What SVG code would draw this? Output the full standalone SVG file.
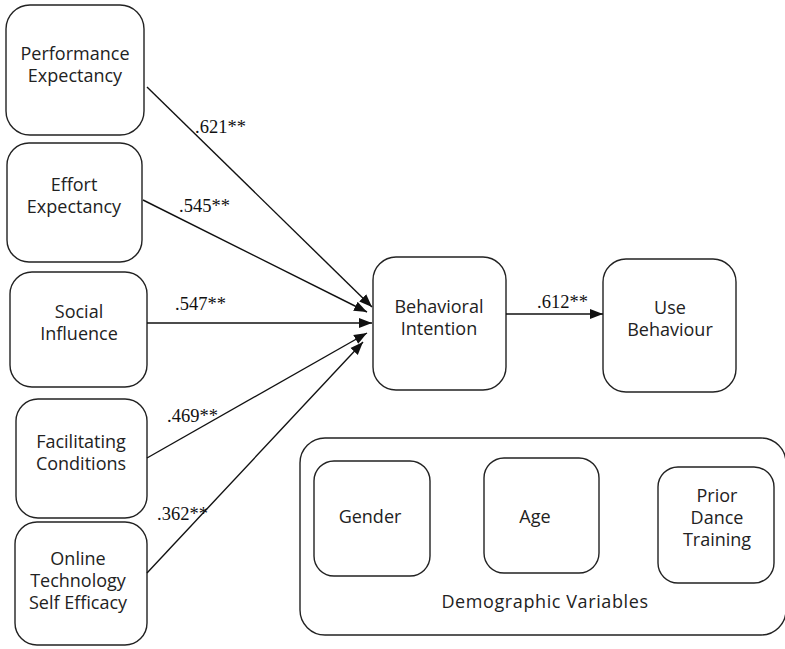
<svg xmlns="http://www.w3.org/2000/svg" width="785" height="649" viewBox="0 0 785 649">
<style>
.box{fill:#fff;stroke:#222;stroke-width:1.4}
.t{font-family:"Open Sans","Liberation Sans",sans-serif;font-size:18px;fill:#222;text-anchor:middle}
.lbl{font-family:"Liberation Serif",serif;font-size:18.5px;fill:#111}
.edge{stroke:#111;stroke-width:1.4;fill:none;marker-end:url(#ah)}
</style>
<defs>
<marker id="ah" markerUnits="userSpaceOnUse" markerWidth="14" markerHeight="12" viewBox="0 0 14 12" refX="13" refY="6" orient="auto">
<path d="M0,1 L13,6 L0,11 Z" fill="#111"/>
</marker>
</defs>
<rect width="785" height="649" fill="#fff"/>
<g id="demographic-group">
<rect class="box" x="300" y="438" width="486" height="197" rx="25"/>
<text class="t" x="545" y="608" style="letter-spacing:0.6px">Demographic Variables</text>
</g>
<g id="performance-expectancy">
<rect class="box" x="6" y="5" width="138" height="130" rx="24"/>
<text class="t" x="75" y="60">Performance</text>
<text class="t" x="75" y="82">Expectancy</text>
</g>
<g id="effort-expectancy">
<rect class="box" x="7" y="143" width="135" height="119" rx="22"/>
<text class="t" x="74" y="191">Effort</text>
<text class="t" x="74" y="213">Expectancy</text>
</g>
<g id="social-influence">
<rect class="box" x="10" y="272" width="137" height="115" rx="22"/>
<text class="t" x="79" y="318">Social</text>
<text class="t" x="79" y="340">Influence</text>
</g>
<g id="facilitating-conditions">
<rect class="box" x="16" y="399" width="131" height="119" rx="22"/>
<text class="t" x="81" y="448">Facilitating</text>
<text class="t" x="81" y="470">Conditions</text>
</g>
<g id="online-tech-self-efficacy">
<rect class="box" x="15" y="522" width="132" height="123" rx="22"/>
<text class="t" x="78" y="565">Online</text>
<text class="t" x="78" y="587">Technology</text>
<text class="t" x="78" y="609">Self Efficacy</text>
</g>
<g id="behavioral-intention">
<rect class="box" x="373" y="257" width="133" height="133" rx="23"/>
<text class="t" x="439" y="313">Behavioral</text>
<text class="t" x="439" y="335">Intention</text>
</g>
<g id="use-behaviour">
<rect class="box" x="603" y="259" width="133" height="133" rx="23"/>
<text class="t" x="670" y="314">Use</text>
<text class="t" x="670" y="336">Behaviour</text>
</g>
<g id="gender">
<rect class="box" x="314" y="461" width="116" height="115" rx="20"/>
<text class="t" x="370" y="523">Gender</text>
</g>
<g id="age">
<rect class="box" x="484" y="458" width="115" height="115" rx="20"/>
<text class="t" x="535" y="523">Age</text>
</g>
<g id="prior-dance-training">
<rect class="box" x="658" y="467" width="116" height="116" rx="20"/>
<text class="t" x="717" y="502">Prior</text>
<text class="t" x="717" y="524">Dance</text>
<text class="t" x="717" y="546">Training</text>
</g>
<g id="connectors">
<line class="edge" x1="147" y1="87" x2="372" y2="307"/>
<line class="edge" x1="143" y1="200" x2="367" y2="312"/>
<line class="edge" x1="147" y1="323" x2="372" y2="323"/>
<line class="edge" x1="147" y1="458" x2="367" y2="333"/>
<line class="edge" x1="147" y1="573" x2="363" y2="342"/>
<line class="edge" x1="506" y1="314" x2="603" y2="314"/>
<text class="lbl" x="195" y="133">.621**</text>
<text class="lbl" x="179" y="212">.545**</text>
<text class="lbl" x="175" y="310">.547**</text>
<text class="lbl" x="167" y="422">.469**</text>
<text class="lbl" x="157" y="520">.362**</text>
<text class="lbl" x="537" y="308">.612**</text>
</g>
</svg>
